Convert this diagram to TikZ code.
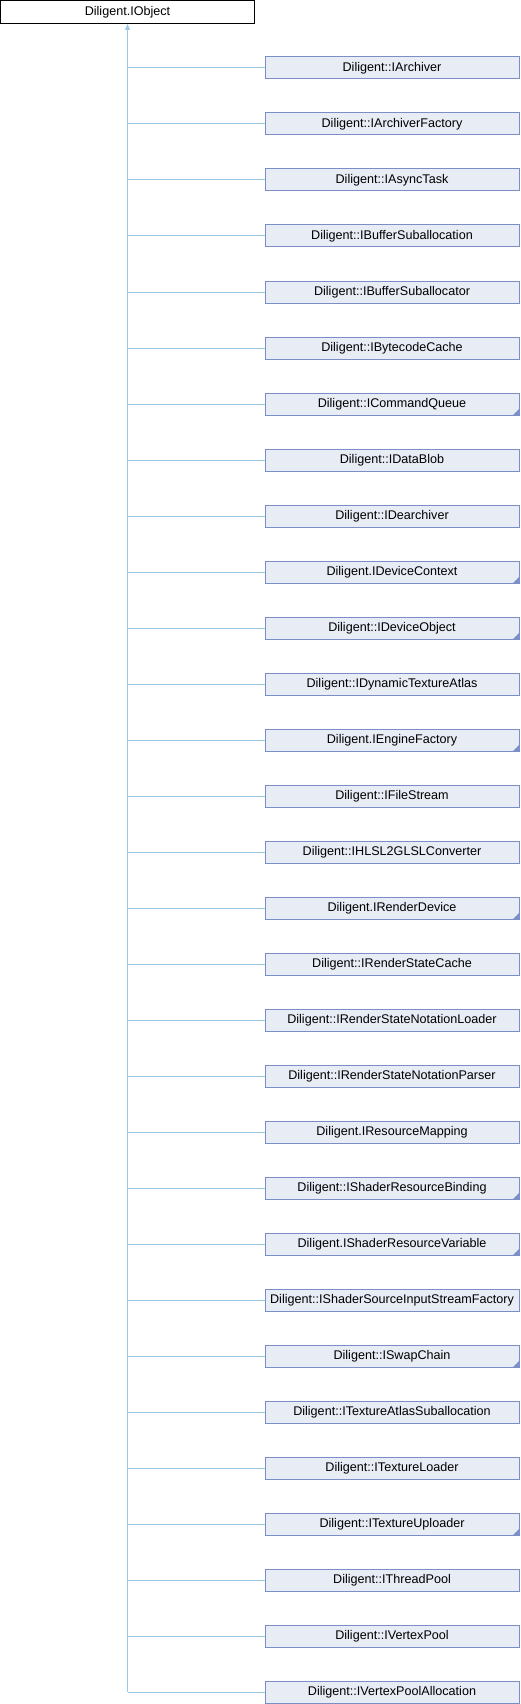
\documentclass[tikz,border=0pt]{standalone}
\usepackage{fontspec}
\setmainfont{Liberation Sans}
\usetikzlibrary{arrows.meta}
\definecolor{linecol}{HTML}{9CC9E6}
\definecolor{boxborder}{HTML}{7A8FC8}
\definecolor{boxfill}{HTML}{E8ECF5}
\tikzset{
  base/.style={draw=black, fill=white, line width=1pt, minimum width=254pt, minimum height=23pt, inner sep=0pt, font=\fontsize{12.6}{14}\selectfont},
  cls/.style={draw=boxborder, fill=boxfill, line width=1pt, minimum width=254pt, minimum height=22pt, inner sep=0pt, font=\fontsize{12.6}{14}\selectfont},
  more/.style={path picture={\fill[boxborder] (path picture bounding box.south east) -- ++(-6pt,0pt) -- ++(6pt,6pt) -- cycle;}},
  conn/.style={draw=linecol, line width=1pt},
}
\begin{document}
\begin{tikzpicture}[x=1pt,y=-1pt]
\useasboundingbox (0,0) rectangle (520,1704);
\node[base] (obj) at (127.5,12) {Diligent.IObject};
\foreach \i/\t/\s in {
0/Diligent::IArchiver/,
1/Diligent::IArchiverFactory/,
2/Diligent::IAsyncTask/,
3/Diligent::IBufferSuballocation/,
4/Diligent::IBufferSuballocator/,
5/Diligent::IBytecodeCache/,
6/Diligent::ICommandQueue/more,
7/Diligent::IDataBlob/,
8/Diligent::IDearchiver/,
9/Diligent.IDeviceContext/more,
10/Diligent::IDeviceObject/more,
11/Diligent::IDynamicTextureAtlas/,
12/Diligent.IEngineFactory/more,
13/Diligent::IFileStream/,
14/Diligent::IHLSL2GLSLConverter/,
15/Diligent.IRenderDevice/more,
16/Diligent::IRenderStateCache/,
17/Diligent::IRenderStateNotationLoader/,
18/Diligent::IRenderStateNotationParser/,
19/Diligent.IResourceMapping/,
20/Diligent::IShaderResourceBinding/more,
21/Diligent.IShaderResourceVariable/more,
22/Diligent::IShaderSourceInputStreamFactory/,
23/Diligent::ISwapChain/more,
24/Diligent::ITextureAtlasSuballocation/,
25/Diligent::ITextureLoader/,
26/Diligent::ITextureUploader/more,
27/Diligent::IThreadPool/,
28/Diligent::IVertexPool/,
29/Diligent::IVertexPoolAllocation/}{
  \node[cls,\s] (c\i) at (392,68+56*\i) {\t};
  \draw[conn] (c\i.west) -- (c\i.west -| obj.south);
}
\draw[conn, -{Triangle[length=6pt,width=5pt]}] (c29.west -| obj.south) -- (obj.south);
\end{tikzpicture}
\end{document}
